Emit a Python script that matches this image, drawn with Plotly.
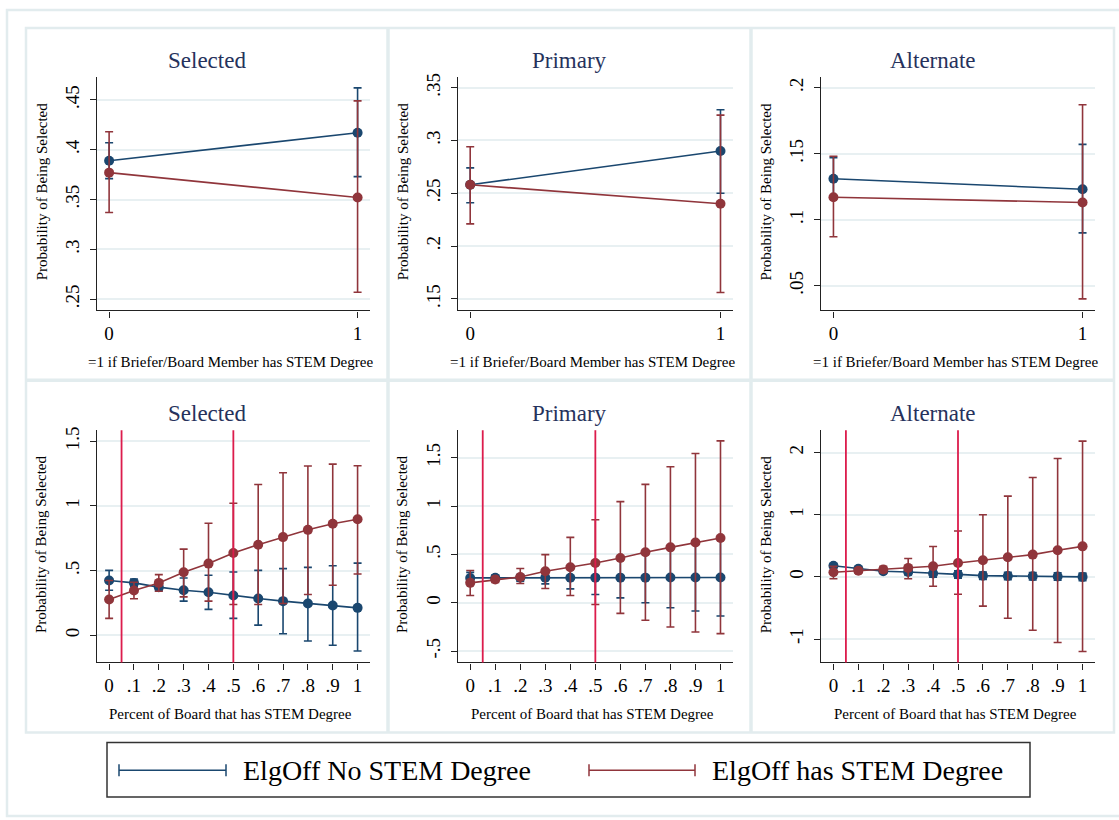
import plotly.graph_objects as go

W, H = 1119, 820
FONT = "Liberation Serif"
NAVY = "#1a476f"
MAROON = "#90353b"
VLINE = "#dc1c4c"
GRID = "#e8f0f2"
FRAME = "#e2ecee"
TITLE_COLOR = "#26325c"

# ---------------- data ----------------
x_bin = [0, 1]
x_pct = [0, 0.1, 0.2, 0.3, 0.4, 0.5, 0.6, 0.7, 0.8, 0.9, 1.0]
x_pct_labels = ["0", ".1", ".2", ".3", ".4", ".5", ".6", ".7", ".8", ".9", "1"]
vline_x = [0.05, 0.5]

panel_titles = ["Selected", "Primary", "Alternate", "Selected", "Primary", "Alternate"]
xtitle_top = "=1 if Briefer/Board Member has STEM Degree"
xtitle_bottom = "Percent of Board that has STEM Degree"
ytitle = "Probability of Being Selected"
legend_labels = ["ElgOff No STEM Degree", "ElgOff has STEM Degree"]

# top row: Selected
sel_blue = [0.389, 0.417]
sel_blue_lo = [0.371, 0.373]
sel_blue_hi = [0.407, 0.462]
sel_red = [0.377, 0.352]
sel_red_lo = [0.337, 0.257]
sel_red_hi = [0.418, 0.449]
# top row: Primary
pri_blue = [0.258, 0.290]
pri_blue_lo = [0.241, 0.250]
pri_blue_hi = [0.274, 0.329]
pri_red = [0.258, 0.240]
pri_red_lo = [0.221, 0.156]
pri_red_hi = [0.294, 0.324]
# top row: Alternate
alt_blue = [0.131, 0.123]
alt_blue_lo = [0.116, 0.090]
alt_blue_hi = [0.147, 0.157]
alt_red = [0.117, 0.113]
alt_red_lo = [0.087, 0.040]
alt_red_hi = [0.148, 0.187]

# bottom row: Selected
bsel_blue = [0.423, 0.405, 0.372, 0.348, 0.333, 0.308, 0.285, 0.264, 0.246, 0.231, 0.212]
bsel_blue_lo = [0.348, 0.375, 0.345, 0.264, 0.200, 0.131, 0.079, 0.012, -0.044, -0.077, -0.121]
bsel_blue_hi = [0.502, 0.435, 0.400, 0.443, 0.464, 0.489, 0.502, 0.515, 0.525, 0.538, 0.558]
bsel_red = [0.277, 0.346, 0.405, 0.487, 0.554, 0.636, 0.700, 0.759, 0.815, 0.862, 0.897]
bsel_red_lo = [0.131, 0.282, 0.340, 0.297, 0.264, 0.238, 0.238, 0.246, 0.315, 0.387, 0.474]
bsel_red_hi = [0.423, 0.410, 0.469, 0.666, 0.866, 1.020, 1.166, 1.256, 1.308, 1.323, 1.310]
# bottom row: Primary
bpri_blue = [0.257, 0.258, 0.258, 0.259, 0.259, 0.260, 0.260, 0.260, 0.261, 0.261, 0.262]
bpri_blue_lo = [0.200, 0.230, 0.223, 0.196, 0.144, 0.086, 0.051, 0.000, -0.051, -0.085, -0.137]
bpri_blue_hi = [0.314, 0.286, 0.293, 0.322, 0.374, 0.434, 0.469, 0.520, 0.573, 0.607, 0.661]
bpri_red = [0.206, 0.240, 0.267, 0.326, 0.367, 0.411, 0.463, 0.522, 0.573, 0.624, 0.669]
bpri_red_lo = [0.076, 0.210, 0.200, 0.148, 0.076, -0.017, -0.109, -0.181, -0.250, -0.302, -0.319]
bpri_red_hi = [0.333, 0.270, 0.354, 0.498, 0.676, 0.858, 1.046, 1.224, 1.406, 1.543, 1.674]
# bottom row: Alternate
balt_blue = [0.180, 0.130, 0.090, 0.080, 0.054, 0.040, 0.020, 0.015, 0.010, 0.005, 0.000]
balt_blue_lo = [0.150, 0.110, 0.070, 0.030, -0.006, -0.020, -0.040, -0.045, -0.050, -0.055, -0.060]
balt_blue_hi = [0.210, 0.150, 0.110, 0.130, 0.114, 0.100, 0.080, 0.075, 0.070, 0.065, 0.060]
balt_red = [0.075, 0.100, 0.120, 0.145, 0.171, 0.224, 0.268, 0.316, 0.359, 0.428, 0.492]
balt_red_lo = [-0.030, 0.060, 0.070, -0.030, -0.150, -0.280, -0.470, -0.667, -0.859, -1.057, -1.202]
balt_red_hi = [0.170, 0.140, 0.170, 0.295, 0.490, 0.740, 1.000, 1.300, 1.600, 1.907, 2.186]

# y-axis ticks per panel
yticks = [
    ([0.25, 0.30, 0.35, 0.40, 0.45], [".25", ".3", ".35", ".4", ".45"]),
    ([0.15, 0.20, 0.25, 0.30, 0.35], [".15", ".2", ".25", ".3", ".35"]),
    ([0.05, 0.10, 0.15, 0.20], [".05", ".1", ".15", ".2"]),
    ([0, 0.5, 1.0, 1.5], ["0", ".5", "1", "1.5"]),
    ([-0.5, 0, 0.5, 1.0, 1.5], ["-.5", "0", ".5", "1", "1.5"]),
    ([-1, 0, 1, 2], ["-1", "0", "1", "2"]),
]
yranges = [
    [0.2387, 0.4733],
    [0.139, 0.3604],
    [0.0312, 0.2083],
    [-0.21, 1.585],
    [-0.617, 1.784],
    [-1.378, 2.362],
]

panels = [
    (x_bin, sel_blue, sel_blue_lo, sel_blue_hi, sel_red, sel_red_lo, sel_red_hi),
    (x_bin, pri_blue, pri_blue_lo, pri_blue_hi, pri_red, pri_red_lo, pri_red_hi),
    (x_bin, alt_blue, alt_blue_lo, alt_blue_hi, alt_red, alt_red_lo, alt_red_hi),
    (x_pct, bsel_blue, bsel_blue_lo, bsel_blue_hi, bsel_red, bsel_red_lo, bsel_red_hi),
    (x_pct, bpri_blue, bpri_blue_lo, bpri_blue_hi, bpri_red, bpri_red_lo, bpri_red_hi),
    (x_pct, balt_blue, balt_blue_lo, balt_blue_hi, balt_red, balt_red_lo, balt_red_hi),
]

# ---------------- layout geometry (pixels) ----------------
col_x = [(96.7, 370.0), (457.7, 733.0), (821.0, 1095.0)]
row_y = [(73.0, 308.0), (428.3, 661.7)]
panel_cx = [207, 569.5, 932.5]
title_y = [57, 412]
xtick_title_y = [360, 713]


def fx(px):
    return px / W


def fy(py):
    return 1 - py / H


fig = go.Figure()
layout = dict(
    width=W, height=H,
    margin=dict(l=0, r=0, t=0, b=0),
    paper_bgcolor="white",
    plot_bgcolor="white",
    showlegend=False,
    font=dict(family=FONT, color="black"),
)
shapes = []
annotations = []


def add_series(i, xs, m, lo, hi, color):
    ax = "" if i == 0 else str(i + 1)
    fig.add_trace(go.Scatter(
        x=xs, y=m,
        mode="lines+markers",
        line=dict(color=color, width=1.6),
        marker=dict(color=color, size=10, symbol="circle"),
        error_y=dict(
            type="data", symmetric=False,
            array=[h - v for h, v in zip(hi, m)],
            arrayminus=[v - l for v, l in zip(m, lo)],
            color=color, thickness=1.6, width=4,
        ),
        xaxis="x" + ax, yaxis="y" + ax,
        hoverinfo="skip",
    ))


for i, (xs, bm, blo, bhi, rm, rlo, rhi) in enumerate(panels):
    r, c = divmod(i, 3)
    ax = "" if i == 0 else str(i + 1)
    x0, x1 = col_x[c]
    y0, y1 = row_y[r]
    # vertical reference lines (bottom row)
    if r == 1:
        for v in vline_x:
            shapes.append(dict(
                type="line", xref="x" + ax, yref="y" + ax + " domain",
                x0=v, x1=v, y0=0, y1=1,
                line=dict(color=VLINE, width=1.8), layer="above",
            ))
    add_series(i, xs, bm, blo, bhi, NAVY)
    add_series(i, xs, rm, rlo, rhi, MAROON)

    if r == 0:
        tv, tt = [0, 1], ["0", "1"]
    else:
        tv, tt = x_pct, x_pct_labels
    layout["xaxis" + ax] = dict(
        domain=[fx(x0), fx(x1)], anchor="y" + ax,
        range=[-0.05, 1.05], showgrid=False, zeroline=False,
        showline=True, linecolor="#222", linewidth=1.4,
        ticks="outside", ticklen=6, tickwidth=1.2, tickcolor="#222",
        tickvals=tv, ticktext=tt,
        tickfont=dict(family=FONT, size=19, color="black"),
        fixedrange=True,
    )
    layout["yaxis" + ax] = dict(
        domain=[fy(y1), fy(y0)], anchor="x" + ax,
        range=yranges[i], showgrid=True, gridcolor=GRID, gridwidth=1.5,
        zeroline=False,
        showline=True, linecolor="#222", linewidth=1.4,
        ticks="outside", ticklen=6, tickwidth=1.2, tickcolor="#222",
        tickvals=yticks[i][0], ticktext=yticks[i][1], tickangle=-90,
        tickfont=dict(family=FONT, size=19, color="black"),
        ticklabelstandoff=3,
        fixedrange=True,
    )
    # panel title
    annotations.append(dict(
        text=panel_titles[i], x=fx(panel_cx[c]), y=fy(title_y[r]),
        xref="paper", yref="paper", showarrow=False,
        xanchor="center", yanchor="middle",
        font=dict(family=FONT, size=23, color=TITLE_COLOR),
    ))
    # x-axis title
    annotations.append(dict(
        text=xtitle_top if r == 0 else xtitle_bottom,
        x=fx((x0 + x1) / 2 - 3), y=fy(xtick_title_y[r]),
        xref="paper", yref="paper", showarrow=False,
        xanchor="center", yanchor="middle",
        font=dict(family=FONT, size=15, color="black"),
    ))
    # y-axis title
    annotations.append(dict(
        text=ytitle, x=fx(x0 - 55), y=fy((y0 + y1) / 2 - 2),
        xref="paper", yref="paper", showarrow=False, textangle=-90,
        xanchor="center", yanchor="middle",
        font=dict(family=FONT, size=15, color="black"),
    ))

# panel frames
shapes.append(dict(type="rect", xref="paper", yref="paper",
                   x0=fx(7), x1=fx(1125), y0=fy(816), y1=fy(6),
                   line=dict(color=FRAME, width=2.5), layer="below"))
shapes.append(dict(type="rect", xref="paper", yref="paper",
                   x0=fx(26), x1=fx(1114), y0=fy(732), y1=fy(24),
                   line=dict(color=FRAME, width=2.5), layer="below"))
for px in [388, 751]:
    shapes.append(dict(type="line", xref="paper", yref="paper",
                       x0=fx(px), x1=fx(px), y0=fy(732), y1=fy(24),
                       line=dict(color=FRAME, width=3.5), layer="below"))
shapes.append(dict(type="line", xref="paper", yref="paper",
                   x0=fx(26), x1=fx(1114), y0=fy(378), y1=fy(378),
                   line=dict(color=FRAME, width=3.5), layer="below"))

# legend box
shapes.append(dict(type="rect", xref="paper", yref="paper",
                   x0=fx(107), x1=fx(1030), y0=fy(797), y1=fy(742),
                   line=dict(color="#333", width=1.5), fillcolor="white", layer="below"))
leg_items = [(119, 226, 241, NAVY, legend_labels[0]), (589, 695, 710, MAROON, legend_labels[1])]
ly = 770
for lx0, lx1, tx, col, lab in leg_items:
    shapes.append(dict(type="line", xref="paper", yref="paper",
                       x0=fx(lx0), x1=fx(lx1), y0=fy(ly), y1=fy(ly),
                       line=dict(color=col, width=1.5)))
    for ex in (lx0, lx1):
        shapes.append(dict(type="line", xref="paper", yref="paper",
                           x0=fx(ex), x1=fx(ex), y0=fy(ly - 6), y1=fy(ly + 6),
                           line=dict(color=col, width=1.5)))
    annotations.append(dict(
        text=lab, x=fx(tx), y=fy(ly), xref="paper", yref="paper",
        showarrow=False, xanchor="left", yanchor="middle",
        font=dict(family=FONT, size=28, color="black"),
    ))

layout["shapes"] = shapes
layout["annotations"] = annotations
fig.update_layout(**layout)
fig.write_html("out.html")
